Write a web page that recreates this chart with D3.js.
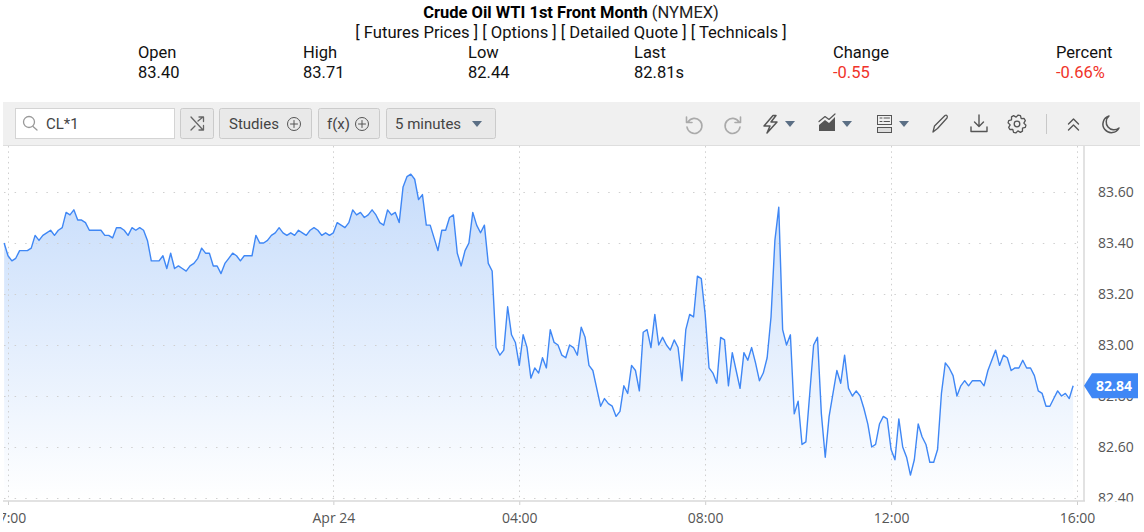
<!DOCTYPE html>
<html><head><meta charset="utf-8">
<script src="https://cdn.jsdelivr.net/npm/d3@7"></script>
<style>html,body{margin:0;padding:0;background:#fff;overflow:hidden}svg{display:block}</style>
</head><body><svg id="c" width="1144" height="532"></svg>
<script>
const titleBold="Crude Oil WTI 1st Front Month";
const titleRest=" (NYMEX)";
const linksText="[ Futures Prices ] [ Options ] [ Detailed Quote ] [ Technicals ]";
const quoteLabels=["Open","High","Low","Last","Change","Percent"];
const quoteValues=["83.40","83.71","82.44","82.81s","-0.55","-0.66%"];
const quoteX=[138,303,468,634,833,1056];
const priceTicks=[82.4,82.6,82.8,83.0,83.2,83.4,83.6];
const timeTickLabels=["17:00","Apr 24","04:00","08:00","12:00","16:00"];
const timeTicks=[new Date(2023,3,23,17),new Date(2023,3,24,0),new Date(2023,3,24,4),new Date(2023,3,24,8),new Date(2023,3,24,12),new Date(2023,3,24,16)];
const firstBar=new Date(2023,3,23,16,55);
const lastValue=82.84;
const closes=[83.40,83.35,83.33,83.34,83.37,83.37,83.37,83.38,83.43,83.41,83.43,83.44,83.45,83.43,83.45,83.46,83.52,83.51,83.53,83.49,
83.49,83.48,83.45,83.45,83.45,83.45,83.43,83.43,83.42,83.46,83.46,83.45,83.43,83.46,83.45,83.46,83.45,83.41,83.33,83.33,
83.33,83.35,83.30,83.36,83.30,83.31,83.30,83.29,83.31,83.32,83.34,83.38,83.36,83.36,83.31,83.31,83.28,83.32,83.34,83.36,
83.35,83.33,83.35,83.35,83.35,83.43,83.40,83.40,83.41,83.43,83.44,83.46,83.44,83.43,83.44,83.43,83.45,83.44,83.43,83.45,
83.46,83.45,83.43,83.44,83.43,83.44,83.48,83.47,83.46,83.48,83.53,83.51,83.52,83.50,83.51,83.53,83.51,83.48,83.47,83.53,
83.51,83.52,83.48,83.62,83.66,83.67,83.65,83.57,83.59,83.47,83.47,83.42,83.37,83.45,83.45,83.50,83.51,83.36,83.31,83.37,
83.40,83.52,83.47,83.44,83.47,83.32,83.29,82.99,82.96,82.98,83.15,83.04,83.01,82.92,83.04,82.99,82.87,82.91,82.89,82.95,
82.91,83.06,83.01,83.00,82.96,82.95,83.00,82.99,82.96,83.07,83.03,82.92,82.90,82.83,82.76,82.79,82.77,82.76,82.72,82.74,
82.84,82.81,82.92,82.90,82.82,83.05,83.06,82.99,83.12,83.00,83.03,83.00,82.98,83.02,82.99,82.86,83.06,83.12,83.11,83.27,
83.26,83.12,82.91,82.89,82.85,83.03,83.02,82.84,82.97,82.90,82.83,82.97,82.94,82.99,82.93,82.86,82.89,82.95,83.11,83.41,
83.54,83.06,83.00,83.04,82.73,82.78,82.61,82.62,82.81,83.00,83.03,82.73,82.56,82.72,82.81,82.90,82.85,82.96,82.83,82.80,
82.82,82.80,82.75,82.69,82.60,82.61,82.69,82.72,82.71,82.59,82.55,82.71,82.60,82.56,82.49,82.55,82.69,82.64,82.61,82.54,
82.54,82.59,82.81,82.93,82.91,82.88,82.80,82.84,82.86,82.84,82.86,82.86,82.86,82.84,82.90,82.94,82.98,82.92,82.96,82.95,
82.90,82.91,82.91,82.94,82.91,82.91,82.88,82.82,82.81,82.76,82.76,82.79,82.82,82.80,82.81,82.79,82.84];

const svg=d3.select("#c");
const FONT="Roboto, sans-serif", AXF="'Open Sans', sans-serif";
const L=3,R=1084,T=146,B=501;
const x=d3.scaleTime().domain([timeTicks[0],timeTicks[5]]).range([8,1077]);
const y=d3.scaleLinear().domain([82.4,83.6]).range([498,192]);
const data=closes.map((v,i)=>({t:d3.timeMinute.offset(firstBar,i*5),v}));

// header
const title=svg.append("text").attr("x",571).attr("y",18).attr("text-anchor","middle").attr("font-family",FONT).attr("font-size",16.5).attr("fill","#000");
title.append("tspan").attr("font-weight",700).text(titleBold);
title.append("tspan").attr("fill","#222").text(titleRest);
svg.append("text").attr("x",571).attr("y",38).attr("text-anchor","middle").attr("font-family",FONT).attr("font-size",16.6).attr("fill","#111").text(linksText);
quoteLabels.forEach((s,i)=>{
  svg.append("text").attr("x",quoteX[i]).attr("y",58).attr("font-family",FONT).attr("font-size",16.5).attr("fill","#111").text(s);
  svg.append("text").attr("x",quoteX[i]).attr("y",78).attr("font-family",FONT).attr("font-size",16.5).attr("fill",i>=4?"#f0332a":"#111").text(quoteValues[i]);
});

// toolbar
svg.append("rect").attr("x",3).attr("y",102).attr("width",1137).attr("height",43).attr("fill","#f0f0f0");
svg.append("line").attr("x1",3).attr("x2",1140).attr("y1",145.5).attr("y2",145.5).attr("stroke","#dedede");
const ICON="#555",ICONL="#aaa";
svg.append("rect").attr("x",15.5).attr("y",108.5).attr("width",159).attr("height",30).attr("fill","#fff").attr("stroke","#d4d4d4");
function btn(a,b){svg.append("rect").attr("x",a+.5).attr("y",108.5).attr("width",b-a-1).attr("height",30).attr("rx",2).attr("fill","#e9e9e9").attr("stroke","#cbcbcb");}
[[180,214],[219,312],[318,380],[386,496]].forEach(d=>btn(d[0],d[1]));
function label(s,xx){svg.append("text").attr("x",xx).attr("y",129).attr("font-family",FONT).attr("font-size",15).attr("fill","#444").text(s);}
label("CL*1",46);label("Studies",229);label("f(x)",327);label("5 minutes",395);
function stroke(d,c,w){return svg.append("path").attr("d",d).attr("fill","none").attr("stroke",c||ICON).attr("stroke-width",w||1.5).attr("stroke-linecap","round").attr("stroke-linejoin","round");}
function circ(cx,cy,r,c,w){svg.append("circle").attr("cx",cx).attr("cy",cy).attr("r",r).attr("fill","none").attr("stroke",c||ICON).attr("stroke-width",w||1);}
function caret(cx,col){svg.append("path").attr("d",`M${cx-5},${121}L${cx+5},${121}L${cx},${127}Z`).attr("fill",col||"#5b6f85");}
// magnifier
circ(29,122,5.5,"#999",1.3);stroke("M33,126.5L37,130","#999",1.3);
// shuffle
stroke("M191,117L203,130M199,130H203.5V125.5M191,130L195,126M198,121L203,117M199,117H203.5V121.5","#666",1.3);
// plus circles
[[294,124],[362,124]].forEach(p=>{circ(p[0],p[1],6.5,"#555",1);stroke(`M${p[0]-3.5},${p[1]}H${p[0]+3.5}M${p[0]},${p[1]-3.5}V${p[1]+3.5}`,"#555",1);});
caret(477,"#5b6f85");
// undo, redo
stroke("M686.5,117V122.5H692M688,122A7.5,7.5 0 1 1 687,127",ICONL,1.6);
stroke("M740.5,117V122.5H735M739,122A7.5,7.5 0 1 0 740,127",ICONL,1.6);
// bolt
stroke("M773,115.5L764,126H770L767,133L777,122H771L776,115.5Z",ICON,1.5);caret(790);
// area chart
svg.append("path").attr("d","M819,131V125L825,120L829,123L835,117V131Z").attr("fill","#555");
stroke("M819,121.5L825,116.5L829,119.5L835,114",ICON,1.2);caret(847);
// layout
svg.append("rect").attr("x",877.5).attr("y",115.5).attr("width",14).attr("height",9).attr("fill","none").attr("stroke",ICON);
svg.append("rect").attr("x",877.5).attr("y",127.5).attr("width",14).attr("height",5).attr("fill","#ddd").attr("stroke",ICON);
stroke("M880,118H882M884,118H889.5M880,121.5H882M884,121.5H889.5",ICON,1);caret(904);
// pencil
stroke("M933,132L934.5,126L945,115.5C946.5,114.5 948,116 947,118L937.5,128.5Z",ICON,1.3);
// download
stroke("M979,115V126M974.5,122L979,126.5L983.5,122M971,127V131.5H987V127",ICON,1.4);
// gear
circ(1017,124,2.8,ICON,1.3);
const gear=d3.range(0,24).map(i=>{const a=i*Math.PI/12+Math.PI/24,r=(i%3<2)?9:6.9;return [1017+r*Math.cos(a),124+r*Math.sin(a)];});
svg.append("path").attr("d",d3.line().curve(d3.curveLinearClosed)(gear)).attr("fill","none").attr("stroke",ICON).attr("stroke-width",1.3).attr("stroke-linejoin","round");
// sep
svg.append("line").attr("x1",1046.5).attr("x2",1046.5).attr("y1",114).attr("y2",134).attr("stroke","#c8c8c8");
// chevrons
stroke("M1068.5,124L1073.5,119L1078.5,124M1068.5,130L1073.5,125L1078.5,130",ICON,1.4);
// moon
stroke("M1109,116A8.5,8.5 0 1 0 1119,128A7.5,7.5 0 0 1 1109,116Z",ICON,1.5);

// chart
const defs=svg.append("defs");
defs.append("clipPath").attr("id","plot").append("rect").attr("x",L).attr("y",T).attr("width",R-L).attr("height",B-T);
defs.append("clipPath").attr("id","yc").append("rect").attr("x",R).attr("y",T).attr("width",60).attr("height",B-T+.5);
const g=defs.append("linearGradient").attr("id","fill").attr("gradientUnits","userSpaceOnUse").attr("x1",0).attr("x2",0).attr("y1",175).attr("y2",B);
g.append("stop").attr("offset",0).attr("stop-color","#c6dcfb");
g.append("stop").attr("offset",1).attr("stop-color","#ffffff");
const plot=svg.append("g").attr("clip-path","url(#plot)");
plot.append("path").datum(data).attr("fill","url(#fill)").attr("d",d3.area().x(d=>x(d.t)).y0(B).y1(d=>y(d.v)));
plot.selectAll(".gy").data(priceTicks).join("line").attr("x1",L+1).attr("x2",R).attr("y1",d=>Math.round(y(d))+.5).attr("y2",d=>Math.round(y(d))+.5)
  .attr("stroke","#cfcfcf").attr("stroke-dasharray","1.5 9.1");
plot.selectAll(".gx").data(timeTicks).join("line").attr("y1",T).attr("y2",B).attr("x1",d=>Math.round(x(d))+.5).attr("x2",d=>Math.round(x(d))+.5)
  .attr("stroke","#cfcfcf").attr("stroke-dasharray","1.5 3.8");
plot.append("path").datum(data).attr("fill","none").attr("stroke","#3f87f5").attr("stroke-width",1.4).attr("stroke-linejoin","round")
  .attr("d",d3.line().x(d=>x(d.t)).y(d=>y(d.v)));

// axes
const ax=svg.append("g").attr("transform",`translate(0,${B})`);
ax.call(d3.axisBottom(x).tickValues(timeTicks).tickSize(4).tickFormat((d,i)=>timeTickLabels[i]));
ax.select(".domain").remove();
ax.selectAll("line").attr("stroke","#cfcfcf");
ax.selectAll("text").attr("font-family",AXF).attr("font-size",14).attr("fill","#555").attr("dy",0).attr("y",22);
svg.append("rect").attr("x",0).attr("y",B+4).attr("width",3).attr("height",27).attr("fill","#fff");
svg.append("line").attr("x1",L).attr("x2",R+1).attr("y1",B).attr("y2",B).attr("stroke","#d8d8d8").attr("stroke-width",1.5);
svg.append("line").attr("x1",R).attr("x2",R).attr("y1",T).attr("y2",B).attr("stroke","#d8d8d8").attr("stroke-width",1.5);
const ay=svg.append("g").attr("clip-path","url(#yc)").append("g").attr("transform",`translate(${R},0)`);
ay.call(d3.axisRight(y).tickValues(priceTicks).tickSize(0).tickFormat(d3.format(".2f")));
ay.select(".domain").remove();
ay.selectAll("text").attr("x",14).attr("font-family",AXF).attr("font-size",14).attr("fill","#555");

// last price tag
const ly=y(lastValue);
svg.append("path").attr("d",`M${R},${ly}L${R+8},${ly-12.5}H1138V${ly+12.5}H${R+8}Z`).attr("fill","#3f87f5");
svg.append("text").attr("x",1114).attr("y",ly+5).attr("text-anchor","middle").attr("font-family",AXF).attr("font-weight",700).attr("font-size",14).attr("fill","#fff").text(d3.format(".2f")(lastValue));
</script></body></html>
